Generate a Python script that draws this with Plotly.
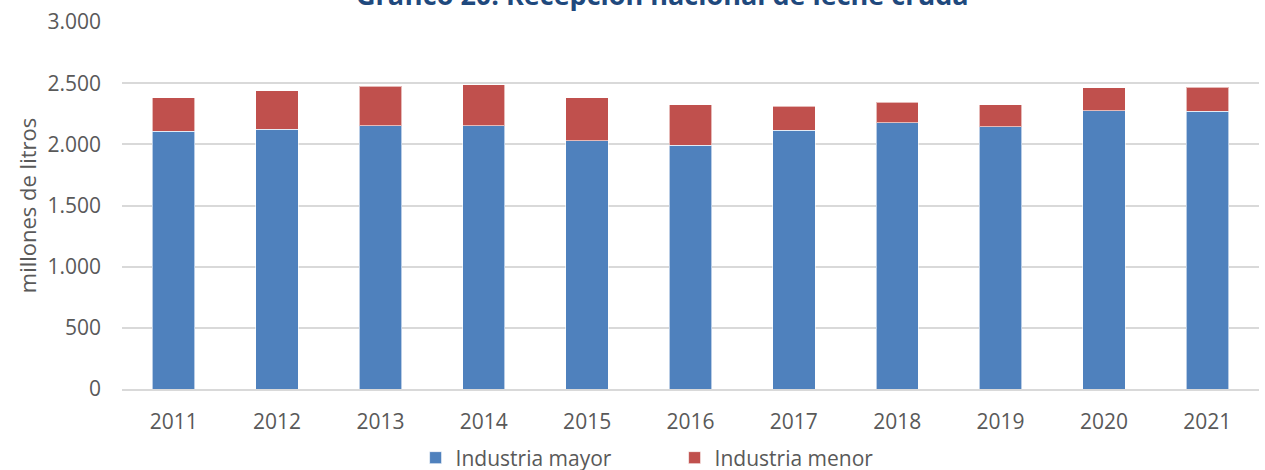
import plotly.graph_objects as go

years = ["2011", "2012", "2013", "2014", "2015", "2016", "2017", "2018", "2019", "2020", "2021"]
industria_mayor = [2107, 2123, 2153, 2153, 2030, 1992, 2115, 2177, 2144, 2275, 2270]
industria_menor = [274, 316, 321, 335, 351, 330, 198, 169, 178, 186, 196]
y_ticks = [0, 500, 1000, 1500, 2000, 2500, 3000]
y_tick_labels = ["0", "500", "1.000", "1.500", "2.000", "2.500", "3.000"]

font_family = "'Open Sans', sans-serif"
text_color = "#595959"

fig = go.Figure()
fig.add_trace(go.Bar(x=years, y=industria_mayor, name="Industria mayor",
                     marker=dict(color="#4F81BD", line=dict(color="rgba(255,255,255,0.6)", width=1))))
fig.add_trace(go.Bar(x=years, y=industria_menor, name="Industria menor",
                     marker=dict(color="#C0504D", line=dict(color="rgba(255,255,255,0.6)", width=1))))

fig.update_layout(
    barmode="stack",
    bargap=0.59,
    width=1265, height=470,
    margin=dict(l=122, r=6, t=22, b=81, autoexpand=False),
    paper_bgcolor="white", plot_bgcolor="white",
    font=dict(family=font_family, size=18, color=text_color),
    showlegend=True,
    legend=dict(orientation="h", x=0.486, xanchor="center", y=-0.188, yanchor="middle",
                font=dict(size=21, color=text_color), traceorder="normal",
                itemwidth=30, entrywidth=214),
    annotations=[dict(text="<b>Gráfico 20: Recepción nacional de leche cruda</b>",
                      x=0.475, xref="paper", y=1.075, yref="paper",
                      xanchor="center", yanchor="middle", showarrow=False,
                      font=dict(size=27, color="#1F497D", family=font_family))],
)
fig.update_yaxes(range=[0, 3000], tickvals=y_ticks, ticktext=y_tick_labels,
                 showgrid=True, gridcolor="#D9D9D9", gridwidth=1.5,
                 zeroline=False, ticks="", ticklabelstandoff=20,
                 title=dict(text="millones de litros", font=dict(size=22, color=text_color), standoff=4),
                 tickfont=dict(size=21, color=text_color))
fig.update_xaxes(showline=True, linecolor="#D9D9D9", linewidth=1.5, ticks="",
                 tickfont=dict(size=21, color=text_color), ticklabelstandoff=13)

fig.write_html("out.html", config={"displayModeBar": False},
               post_script="document.body.style.margin='0';")
